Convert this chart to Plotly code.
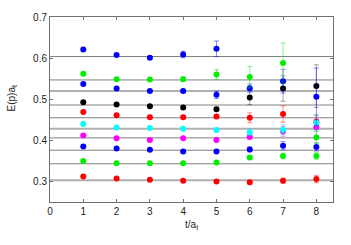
import plotly.graph_objects as go

t = [1, 2, 3, 4, 5, 6, 7, 8]

s1_blue = [0.621, 0.608, 0.601, 0.609, 0.623]
s1_err = [0.002, 0.003, 0.003, 0.008, 0.019]
s2_green = [0.562, 0.549, 0.548, 0.549, 0.560, 0.554, 0.588, 0.407]
s2_err = [0.002, 0.003, 0.003, 0.005, 0.012, 0.026, 0.049, 0.015]
s3_blue = [0.537, 0.526, 0.520, 0.520, 0.511, 0.527, 0.544, 0.506]
s3_err = [0.002, 0.003, 0.003, 0.004, 0.009, 0.010, 0.029, 0.070]
s4_black = [0.493, 0.487, 0.483, 0.480, 0.476, 0.504, 0.526, 0.532]
s4_err = [0.002, 0.002, 0.003, 0.003, 0.005, 0.017, 0.031, 0.052]
s5_red = [0.469, 0.461, 0.456, 0.456, 0.458, 0.455, 0.464, 0.445]
s5_err = [0.002, 0.003, 0.003, 0.003, 0.005, 0.012, 0.020, 0.015]
s6_cyan = [0.440, 0.431, 0.430, 0.428, 0.425, 0.420, 0.426, 0.443]
s6_err = [0.002, 0.003, 0.003, 0.003, 0.004, 0.008, 0.012, 0.020]
s7_magenta = [0.412, 0.405, 0.401, 0.405, 0.401, 0.409, 0.422, 0.432]
s7_err = [0.002, 0.002, 0.003, 0.003, 0.004, 0.007, 0.012, 0.020]
s8_blue = [0.385, 0.380, 0.377, 0.373, 0.373, 0.378, 0.387, 0.384]
s8_err = [0.002, 0.002, 0.002, 0.003, 0.004, 0.006, 0.010, 0.010]
s9_green = [0.350, 0.344, 0.344, 0.344, 0.346, 0.358, 0.362, 0.362]
s9_err = [0.001, 0.002, 0.002, 0.002, 0.003, 0.005, 0.007, 0.008]
s10_red = [0.312, 0.307, 0.304, 0.302, 0.300, 0.298, 0.302, 0.306]
s10_err = [0.001, 0.002, 0.002, 0.002, 0.003, 0.004, 0.006, 0.009]

fit_levels = [0.604, 0.547, 0.520, 0.486, 0.455, 0.428, 0.406, 0.376, 0.343, 0.303]
light_levels = [0.520, 0.428, 0.303]

x_ticks = [0, 1, 2, 3, 4, 5, 6, 7, 8]
y_ticks = [0.3, 0.4, 0.5, 0.6, 0.7]

series = [
    (s10_red, s10_err, "#ff0000", "rgba(255,0,0,0.45)"),
    (s9_green, s9_err, "#00ee00", "rgba(0,220,0,0.45)"),
    (s8_blue, s8_err, "#0000ff", "rgba(0,0,255,0.45)"),
    (s5_red, s5_err, "#ff0000", "rgba(255,0,0,0.45)"),
    (s7_magenta, s7_err, "#ff00ff", "rgba(255,0,255,0.45)"),
    (s6_cyan, s6_err, "#00ffff", "rgba(0,220,220,0.5)"),
    (s4_black, s4_err, "#000000", "rgba(0,0,0,0.35)"),
    (s3_blue, s3_err, "#0000ff", "rgba(0,0,255,0.45)"),
    (s2_green, s2_err, "#00ee00", "rgba(0,220,0,0.45)"),
    (s1_blue, s1_err, "#0000ff", "rgba(0,0,255,0.45)"),
]

fig = go.Figure()

for lv in fit_levels:
    light = lv in light_levels
    fig.add_trace(go.Scatter(
        x=[0, 8.5], y=[lv, lv], mode="lines",
        line=dict(color="#b0b0b0" if light else "#808080", width=2 if light else 1),
        hoverinfo="skip", showlegend=False,
    ))

for vals, errs, col, ecol in series:
    fig.add_trace(go.Scatter(
        x=t[:len(vals)], y=vals, mode="markers",
        marker=dict(color=col, size=6),
        error_y=dict(type="data", array=errs, color=ecol, thickness=1, width=2.5),
        showlegend=False,
    ))

axis_common = dict(
    showgrid=False, zeroline=False, showline=True, linecolor="#707070", linewidth=1,
    mirror="ticks", ticks="inside", ticklen=3, tickcolor="#707070",
    tickfont=dict(family="Liberation Sans, Arial, sans-serif", size=10, color="#222"),
)

fig.update_xaxes(range=[0, 8.5], tickvals=x_ticks, **axis_common)
fig.update_yaxes(range=[0.25, 0.7002], tickvals=y_ticks, tickformat=".1f", **axis_common)

fig.add_annotation(text="t/a<sub>t</sub>", x=0.5, y=-0.125, xref="paper", yref="paper",
                   xanchor="center", yanchor="middle", showarrow=False,
                   font=dict(family="Liberation Sans, Arial, sans-serif", size=10, color="#222"))
fig.add_annotation(text="E(p)a<sub>t</sub>", x=-0.134, y=0.56, xref="paper", yref="paper",
                   xanchor="center", yanchor="middle", textangle=-90, showarrow=False,
                   font=dict(family="Liberation Sans, Arial, sans-serif", size=10, color="#222"))

fig.update_layout(
    width=351, height=245,
    margin=dict(l=50, r=18, t=12, b=43),
    paper_bgcolor="white", plot_bgcolor="white",
)

fig.write_html("out.html", config={"displayModeBar": False},
               post_script="document.body.style.margin='0';")
